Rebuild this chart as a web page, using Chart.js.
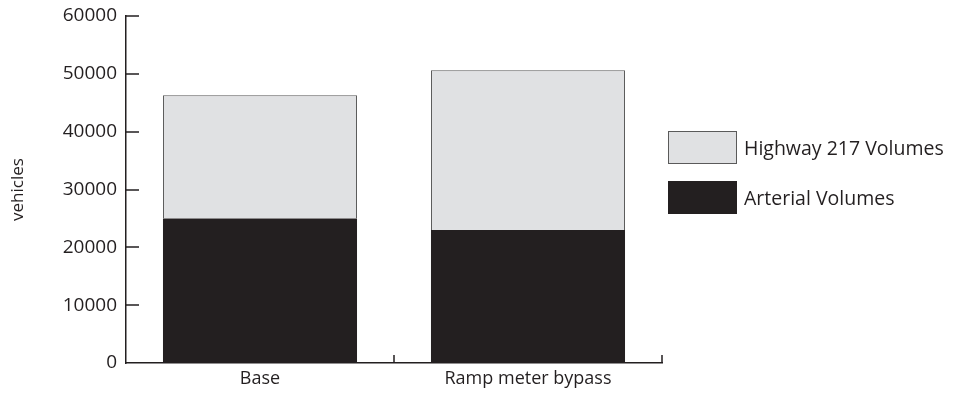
<!DOCTYPE html>
<html>
<head>
<meta charset="utf-8">
<script src="https://cdn.jsdelivr.net/npm/chart.js@4.4.1/dist/chart.umd.min.js"></script>
<style>
  html, body { margin: 0; padding: 0; background: #ffffff; }
  #wrap { position: relative; width: 954px; height: 396px; }
  #legend { position: absolute; left: 668px; top: 131px; margin: 0; padding: 0; list-style: none;
            font-family: "Open Sans", "Noto Sans", sans-serif; font-size: 19.5px; color: #231f20; }
  #legend li { display: flex; align-items: center; height: 33px; margin-bottom: 17px; white-space: nowrap; }
  #legend .swatch { box-sizing: border-box; width: 69px; height: 33px; margin-right: 7px; }
</style>
</head>
<body>
<div id="wrap">
  <canvas id="chart" width="954" height="396"></canvas>
  <ul id="legend"></ul>
</div>
<script>
// Daily volumes by scenario (vehicles)
const categories = ['Base', 'Ramp meter bypass'];
const arterialVolumes = [25000, 23000];
const highwayVolumes = [21300, 27600];
const yTicks = [0, 10000, 20000, 30000, 40000, 50000, 60000];

const INK = '#231f20';
const FONT = '"Open Sans", "Noto Sans", sans-serif';

// Short tick marks pointing into the plot area
const innerTicks = {
  id: 'innerTicks',
  afterDatasetsDraw(chart) {
    const { ctx, scales: { x, y } } = chart;
    ctx.save();
    ctx.strokeStyle = INK;
    ctx.lineWidth = 1.5;
    ctx.beginPath();
    yTicks.forEach(v => {
      if (v === 0) return;
      const py = Math.round(y.getPixelForValue(v));
      ctx.moveTo(x.left, py);
      ctx.lineTo(x.left + 13, py);
    });
    // category boundaries along the x axis
    const step = (x.right - x.left) / categories.length;
    for (let i = 1; i <= categories.length; i++) {
      const px = Math.round(x.left + step * i);
      ctx.moveTo(px, y.bottom);
      ctx.lineTo(px, y.bottom - 8);
    }
    ctx.stroke();
    ctx.restore();
  }
};

const chart = new Chart(document.getElementById('chart'), {
  type: 'bar',
  data: {
    labels: categories,
    datasets: [
      {
        label: 'Arterial Volumes',
        data: arterialVolumes,
        backgroundColor: INK,
        borderColor: INK,
        borderWidth: 0,
        barPercentage: 0.724,
        categoryPercentage: 1
      },
      {
        label: 'Highway 217 Volumes',
        data: highwayVolumes,
        backgroundColor: '#e0e1e3',
        borderColor: '#5a5a5a',
        borderWidth: 1,
        borderSkipped: 'bottom',
        barPercentage: 0.724,
        categoryPercentage: 1
      }
    ]
  },
  options: {
    responsive: false,
    animation: false,
    layout: { padding: { top: 16, right: 292, bottom: 0, left: 0 } },
    plugins: {
      tooltip: { enabled: false },
      legend: { display: false }
    },
    scales: {
      x: {
        stacked: true,
        grid: { display: false, drawTicks: false },
        border: { display: true, color: INK, width: 1.5 },
        ticks: { color: INK, font: { family: FONT, size: 18 }, padding: 5 },
        afterFit(scale) { scale.height = 33; scale.paddingLeft = 0; scale.paddingRight = 0; }
      },
      y: {
        stacked: true,
        min: 0,
        max: 60000,
        afterBuildTicks(scale) { scale.ticks = yTicks.map(v => ({ value: v })); },
        grid: { display: false, drawTicks: false },
        border: { display: true, color: INK, width: 1.5 },
        ticks: {
          color: INK,
          font: { family: FONT, size: 19 },
          padding: 9,
          callback: v => String(v)
        },
        title: {
          display: true,
          text: 'vehicles',
          color: INK,
          font: { family: FONT, size: 17 },
          padding: { top: 8, bottom: 0 }
        },
        afterFit(scale) { scale.width = 126; scale.paddingTop = 0; scale.paddingBottom = 0; }
      }
    }
  },
  plugins: [innerTicks]
});

// Legend listing the stacked series, top series first
const legend = document.getElementById('legend');
chart.data.datasets.slice().reverse().forEach(ds => {
  const li = document.createElement('li');
  const sw = document.createElement('span');
  sw.className = 'swatch';
  sw.style.background = ds.backgroundColor;
  sw.style.border = ds.borderWidth ? `1px solid ${ds.borderColor}` : 'none';
  li.appendChild(sw);
  li.appendChild(document.createTextNode(ds.label));
  legend.appendChild(li);
});
</script>
</body>
</html>
